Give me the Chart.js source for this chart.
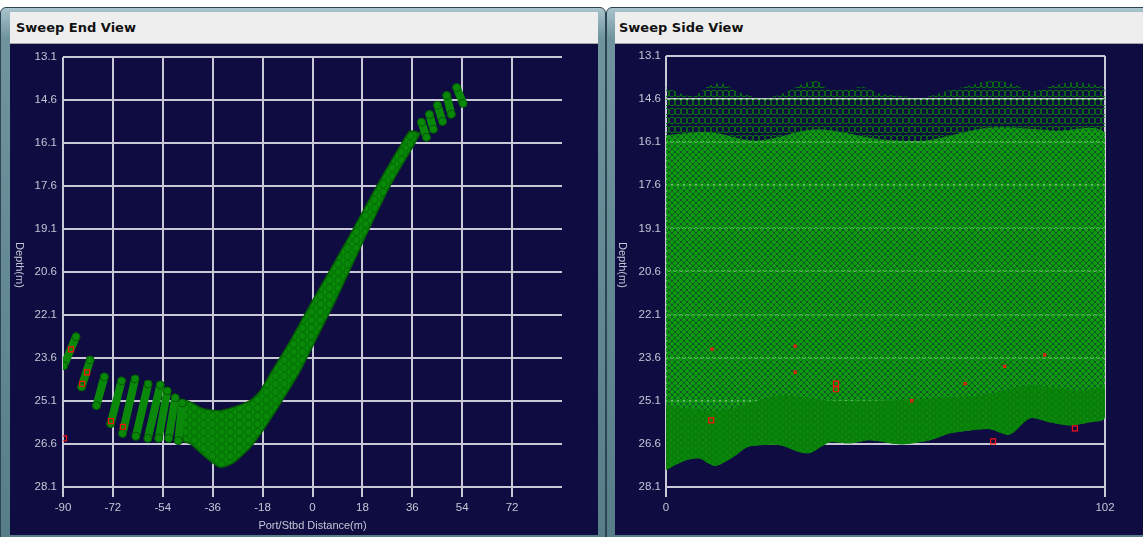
<!DOCTYPE html>
<html>
<head>
<meta charset="utf-8">
<script src="https://cdn.jsdelivr.net/npm/chart.js@4.4.1/dist/chart.umd.min.js"></script>
<style>
  html, body { margin: 0; padding: 0; background: #ffffff; }
  #page { position: relative; width: 1143px; height: 537px; overflow: hidden; background: #ffffff; }
  .frame { position: absolute; top: 7px; height: 540px; box-sizing: border-box;
           border: 1px solid #2b4652; border-radius: 6px 6px 0 0;
           background: linear-gradient(to bottom, #a9c4cc 0px, #6f949e 30px, #577d88 100%); }
  .bar { position: absolute; top: 12px; height: 32px; box-sizing: border-box;
         background: #eeeeee; border-bottom: 1px solid #a4a4a4;
         font: bold 13px "DejaVu Sans", sans-serif; color: #111111; line-height: 31px; }
  .plot { position: absolute; top: 44px; height: 491px; background: #0e0c41; }
  .ytitle { position: absolute; writing-mode: vertical-rl; font: 11px "Liberation Sans", sans-serif; color: #c4c4d4; }
  canvas { position: absolute; }
</style>
</head>
<body>
<div id="page">
  <div class="frame" style="left:0px; width:606px;"></div>
  <div class="frame" style="left:606px; width:545px;"></div>
  <div class="bar" style="left:10px; width:588px; padding-left:6px;">Sweep End View</div>
  <div class="bar" style="left:615px; width:528px; padding-left:4px;">Sweep Side View</div>
  <div class="plot" style="left:10px; width:588px;"></div>
  <div class="plot" style="left:615px; width:528px;"></div>
  <canvas id="endView" width="588" height="491" style="left:10px; top:44px;"></canvas>
  <canvas id="sideView" width="528" height="491" style="left:615px; top:44px;"></canvas>
  <div class="ytitle" style="left:14px; top:242px;">Depth(m)</div>
  <div class="ytitle" style="left:617px; top:242px;">Depth(m)</div>
</div>
<script>
// ---------- axes ----------
const depthTicks = [13.1, 14.6, 16.1, 17.6, 19.1, 20.6, 22.1, 23.6, 25.1, 26.6, 28.1];
const endDistanceTicks = [-90, -72, -54, -36, -18, 0, 18, 36, 54, 72];
const sidePingTicks = [0, 102];

// ---------- Sweep End View ----------
// outline of the merged swath (across-track distance m, depth m), clockwise
const endBodyX = [38.8, 36.3, 28.0, 19.3, 8.1, 0.9, -4.5, -8.8, -12.5, -17.9, -22.5, -28.7, -33.4, -38.1, -44.2, -46.7,
                  -46.0, -39.5, -33.4, -28.7, -22.5, -18.9, -14.6, -8.1, -0.2, 13.5, 23.3, 31.6, 35.2];
const endBodyDepth = [15.76, 16.21, 17.59, 19.32, 21.64, 23.02, 24.06, 24.75, 25.33, 26.13, 26.72, 27.27, 27.41, 27.10, 26.58, 26.48,
                      25.09, 25.37, 25.44, 25.33, 25.09, 24.75, 24.06, 23.02, 21.64, 19.32, 17.59, 16.21, 15.69];
// separate outer beams: [top distance, top depth, bottom distance, bottom depth]
const portBeams = [
  [-85.3, 22.86, -89.7, 23.87],
  [-80.2, 23.67, -83.3, 24.61],
  [-75.1, 24.26, -77.9, 25.26],
  [-68.9, 24.40, -72.8, 25.89],
  [-64.0, 24.33, -68.5, 26.23],
  [-59.3, 24.51, -63.7, 26.33],
  [-54.9, 24.54, -59.4, 26.40],
  [-52.4, 24.75, -55.5, 26.40],
  [-49.5, 24.99, -51.9, 26.40],
  [-47.0, 25.17, -48.4, 26.48]
];
const stbdBeams = [
  [52.0, 14.17, 54.3, 14.72],
  [48.4, 14.45, 50.1, 15.10],
  [45.1, 14.79, 46.9, 15.35],
  [42.2, 15.11, 43.6, 15.62],
  [39.3, 15.38, 41.1, 15.90]
];
// flagged soundings
const endFlagX = [-87.1, -81.3, -83.1, -89.6, -72.7, -68.4];
const endFlagDepth = [23.3, 24.1, 24.5, 26.4, 25.8, 26.0];

// ---------- Sweep Side View ----------
// shallowest beam along the sweep (ping, depth)
const sideTopPing = [0, 6, 10, 13, 17, 21, 26, 31, 35, 38, 42, 46, 50, 55, 60, 65, 70, 75, 80, 85, 90, 95, 99, 102];
const sideTopDepth = [14.20, 14.50, 14.15, 14.05, 14.36, 14.54, 14.47, 14.12, 13.98, 14.26, 14.26, 14.19, 14.43, 14.50, 14.54, 14.33, 14.15, 13.98, 14.05, 14.33, 14.12, 14.02, 14.09, 14.26];
// where the outer-beam rows close up into a continuous mesh
const sideMeshPing = [0, 10, 21, 35, 50, 60, 75, 90, 102];
const sideMeshDepth = [15.85, 15.75, 16.05, 15.65, 16.00, 16.05, 15.60, 15.70, 15.85];
// top of the dense near-nadir returns
const sideDensePing = [0, 12.5, 26.5, 38, 50, 61, 73, 85, 96, 102];
const sideDenseDepth = [25.27, 25.44, 24.92, 25.09, 25.09, 25.02, 24.92, 24.57, 24.75, 24.68];
// deepest returns along the sweep
const sideBottomPing = [0, 4.6, 7.7, 9.8, 11.6, 15.6, 18.8, 21.8, 26.5, 31.1, 33.5, 35.8, 38.1, 42.7, 47.4, 54.4, 61.3, 66.0, 70.6, 75.3, 79.9, 84.6, 89.2, 93.8, 98.5, 102];
const sideBottomDepth = [27.51, 27.17, 27.10, 27.27, 27.37, 27.06, 26.72, 26.65, 26.65, 26.89, 26.92, 26.72, 26.54, 26.58, 26.47, 26.61, 26.47, 26.23, 26.13, 26.09, 26.27, 25.71, 25.85, 25.96, 25.85, 25.68];
// flagged soundings
const sideFlagPing = [39.5, 39.5, 76.0, 95.0, 10.5];
const sideFlagDepth = [24.50, 24.70, 26.51, 26.06, 25.78];
const sideSpeckPing = [10.7, 30.0, 30.0, 57.1, 69.5, 78.7, 88.0];
const sideSpeckDepth = [23.30, 23.20, 24.10, 25.10, 24.50, 23.90, 23.50];

// ---------- styling helpers ----------
const TICK_COLOR = '#c6c6d6';
const GRID_COLOR = '#c8c8d6';
const FONT = { family: '"Liberation Sans", Arial, sans-serif', size: 11.5 };

function ringPattern(w, h, base, stroke, lw, rings) {
  const c = document.createElement('canvas');
  c.width = w; c.height = h;
  const g = c.getContext('2d');
  if (base) { g.fillStyle = base; g.fillRect(0, 0, w, h); }
  g.strokeStyle = stroke; g.lineWidth = lw;
  rings.forEach(([cx, cy, r]) => { g.beginPath(); g.arc(cx, cy, r, 0, Math.PI * 2); g.stroke(); });
  return g.createPattern(c, 'repeat');
}
// chained sounding rings for the outer beam rows
const rowFill = ringPattern(6, 9, null, '#0b7f0b', 1.0,
  [[3, 4.5, 3.3], [-3, 4.5, 3.3], [9, 4.5, 3.3]]);
// overlapping rings where rows merge
const meshFill = ringPattern(6, 6, null, '#109a10', 1.25,
  [[0, 0, 2.8], [6, 0, 2.8], [0, 6, 2.8], [6, 6, 2.8], [3, 3, 2.8]]);
const denseFill = ringPattern(7, 6, '#0b880b', '#087208', 0.8, [[3.5, 3, 2.6]]);
const bodyFill = ringPattern(9, 8, '#088a08', '#056a05', 0.9, [[4.5, 4, 3.6]]);

const pts = (xs, ys) => xs.map((x, i) => ({ x: x, y: ys[i] }));

function depthAxis(width, pad) {
  return {
    type: 'linear', reverse: true, min: 13.1, max: 28.1,
    afterBuildTicks: s => { s.ticks = depthTicks.map(v => ({ value: v })); },
    afterFit: s => { s.width = width; },
    border: { display: false },
    grid: { color: GRID_COLOR, lineWidth: 2, drawTicks: false },
    ticks: { color: TICK_COLOR, font: FONT, padding: pad, callback: v => v.toFixed(1) }
  };
}
function distanceAxis(min, max, ticks, title) {
  return {
    type: 'linear', min: min, max: max,
    afterBuildTicks: s => { s.ticks = ticks.map(v => ({ value: v })); },
    afterFit: s => { s.height = 48; },
    border: { display: false },
    grid: { color: GRID_COLOR, lineWidth: 2, drawTicks: true, tickLength: 10, tickColor: GRID_COLOR },
    ticks: { color: TICK_COLOR, font: FONT, padding: 4, maxRotation: 0, autoSkip: false },
    title: title ? { display: true, text: title, color: TICK_COLOR, font: { family: FONT.family, size: 11 }, padding: { top: 0, bottom: 2 } } : { display: false }
  };
}
const baseOptions = {
  responsive: false, animation: false, devicePixelRatio: 1, events: [],
  plugins: { legend: { display: false }, tooltip: { enabled: false } }
};
const flagSet = (xs, ys, r) => ({
  data: pts(xs, ys), showLine: false, pointStyle: 'rect', pointRadius: r,
  pointBorderColor: '#ff1010', pointBackgroundColor: 'rgba(0,0,0,0)', pointBorderWidth: 1.2
});
const beamSet = b => ({
  data: [{ x: b[0], y: b[1] }, { x: b[2], y: b[3] }], showLine: true,
  borderColor: '#0a880a', borderWidth: 8, borderCapStyle: 'round',
  pointRadius: 4, pointBorderColor: '#055805', pointBackgroundColor: '#0a880a', pointBorderWidth: 1
});
const areaSet = (data, fillStyle, tension) => ({
  data: data, showLine: true, fill: 'shape', tension: tension,
  backgroundColor: fillStyle, borderColor: 'rgba(0,0,0,0)', borderWidth: 0, pointRadius: 0
});

// ---------- Sweep End View chart ----------
const endBody = areaSet(pts(endBodyX, endBodyDepth).concat([{ x: endBodyX[0], y: endBodyDepth[0] }]), bodyFill, 0.2);
endBody.borderColor = '#055e05';
endBody.borderWidth = 1.5;
new Chart(document.getElementById('endView'), {
  type: 'scatter',
  data: {
    datasets: [
      flagSet(endFlagX, endFlagDepth, 3.5),
      ...portBeams.map(beamSet),
      ...stbdBeams.map(beamSet),
      endBody
    ]
  },
  options: Object.assign({}, baseOptions, {
    layout: { padding: { top: 9, right: 36, left: 0, bottom: 0 } },
    scales: {
      x: distanceAxis(-90, 90, endDistanceTicks, 'Port/Stbd Distance(m)'),
      y: depthAxis(53, 6)
    }
  })
});

// ---------- Sweep Side View chart ----------
const bottomEdge = pts(sideBottomPing, sideBottomDepth).reverse();
const meshEdge = pts(sideMeshPing, sideMeshDepth);
const sideRows = pts(sideTopPing, sideTopDepth).concat(meshEdge.slice().reverse());
const sideMesh = meshEdge.concat(bottomEdge);
const sideDense = pts(sideDensePing, sideDenseDepth).concat(bottomEdge);
new Chart(document.getElementById('sideView'), {
  type: 'scatter',
  data: {
    datasets: [
      flagSet(sideFlagPing, sideFlagDepth, 3.5),
      flagSet(sideSpeckPing, sideSpeckDepth, 1.5),
      areaSet(sideDense, denseFill, 0.3),
      areaSet(sideMesh, meshFill, 0.3),
      areaSet(sideRows, rowFill, 0.3)
    ]
  },
  options: Object.assign({}, baseOptions, {
    layout: { padding: { top: 9, right: 38, left: 0, bottom: 0 } },
    scales: {
      x: distanceAxis(0, 102, sidePingTicks, null),
      y: depthAxis(51, 5)
    }
  })
});
</script>
</body>
</html>
